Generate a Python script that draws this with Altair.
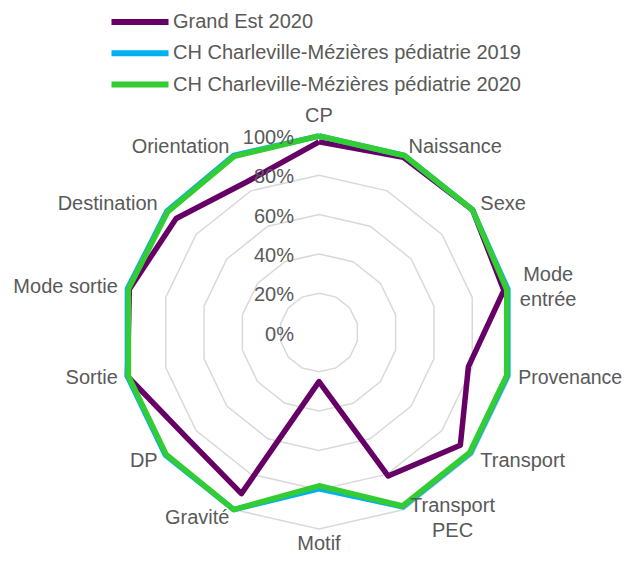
import altair as alt
import pandas as pd

categories = ["CP", "Naissance", "Sexe", "Mode entrée", "Provenance", "Transport",
              "Transport PEC", "Motif", "Gravité", "DP", "Sortie", "Mode sortie",
              "Destination", "Orientation"]
series_names = ["Grand Est 2020",
                "CH Charleville-Mézières pédiatrie 2019",
                "CH Charleville-Mézières pédiatrie 2020"]
grand_est_2020 = [0.97, 0.99, 1.00, 0.965, 0.78, 0.92, 0.81, 0.25, 0.91, 0.86, 1.00, 0.99, 0.93, 0.85]
ch_2019 = [1.00, 1.00, 1.00, 0.985, 0.985, 0.985, 0.985, 0.795, 1.00, 1.00, 1.00, 1.00, 0.99, 1.00]
ch_2020 = [1.00, 1.00, 1.00, 0.98, 0.98, 0.98, 0.98, 0.78, 1.00, 0.995, 0.995, 0.995, 0.985, 0.995]
series_values = [grand_est_2020, ch_2019, ch_2020]
colors = ["#660066", "#00b0f0", "#33cc33"]
grid_levels = [0.2, 0.4, 0.6, 0.8, 1.0]
tick_levels = [0.0, 0.2, 0.4, 0.6, 0.8, 1.0]
tick_labels = ["0%", "20%", "40%", "60%", "80%", "100%"]
label_text = {"Mode entrée": "Mode\nentrée", "Transport PEC": "Transport\nPEC"}

N = len(categories)
FONT = "Liberation Sans"
TXT = "#595959"

rows = []
for name, vals in zip(series_names, series_values):
    for i in range(N + 1):
        rows.append({"series": name, "idx": i, "value": vals[i % N]})
df = pd.DataFrame(rows)

grid = pd.DataFrame([{"level": lv, "idx": i, "value": lv} for lv in grid_levels for i in range(N + 1)])
ticks = pd.DataFrame({"value": tick_levels, "label": tick_labels})
labels = pd.DataFrame({"cat": categories, "idx": list(range(N)),
                       "text": [label_text.get(c, c) for c in categories]})

xs = alt.Scale(domain=[-1.5827, 1.5471], nice=False, zero=False)
ys = alt.Scale(domain=[-1.1221, 1.6514], nice=False, zero=False)


def polar(chart, r=None):
    val = "datum.value" if r is None else str(r)
    return chart.transform_calculate(
        ang=f"datum.idx * 2 * PI / {N}"
    ).transform_calculate(
        px=f"{val} * sin(datum.ang)", py=f"{val} * cos(datum.ang)"
    )


X = alt.X("px:Q", scale=xs, axis=None)
Y = alt.Y("py:Q", scale=ys, axis=None)

rings = polar(alt.Chart(grid)).mark_line(color="#d9d9d9", strokeWidth=1.5).encode(
    x=X, y=Y, detail="level:N", order="idx:Q")

color = alt.Color("series:N", scale=alt.Scale(domain=series_names, range=colors),
                  legend=alt.Legend(title=None, orient="none", legendX=100, legendY=4,
                                    symbolType="stroke", symbolSize=3250, symbolStrokeWidth=6,
                                    labelFontSize=20, labelColor=TXT, labelFont=FONT,
                                    labelLimit=600, clipHeight=20, rowPadding=11.3,
                                    labelOffset=1, padding=0))

line_layers = []
for name in series_names:
    line_layers.append(
        polar(alt.Chart(df)).transform_filter(alt.datum.series == name)
        .mark_line(strokeWidth=5.5, strokeJoin="round")
        .encode(x=X, y=Y, color=color, order="idx:Q")
    )

tick_text = alt.Chart(ticks).transform_calculate(px="0", py="datum.value").mark_text(
    align="right", baseline="middle", dx=-25, dy=2, fontSize=20, font=FONT, color=TXT
).encode(x=X, y=Y, text="label:N")


def label_layer(cats, r, size=20, **kw):
    return polar(alt.Chart(labels).transform_filter(
        alt.FieldOneOfPredicate(field="cat", oneOf=cats)), r=r).mark_text(
        baseline="middle", fontSize=size, font=FONT, color=TXT, lineBreak="\n", lineHeight=25, **kw
    ).encode(x=X, y=Y, text="text:N")


lab_right = label_layer(["Naissance", "Sexe", "Transport"], 1.05, align="left")
lab_prov = label_layer(["Provenance"], 1.05, size=19.5, align="left", dx=-2)
lab_left = label_layer(["Gravité", "DP", "Sortie", "Mode sortie", "Destination", "Orientation"], 1.05, align="right")
lab_top = label_layer(["CP"], 1.1, align="center")
lab_bottom = label_layer(["Motif"], 1.075, align="center")
lab_mode = label_layer(["Mode entrée"], 1.05, align="center", dx=28, dy=-12)
lab_tpec = label_layer(["Transport PEC"], 1.05, align="center", dx=44, dy=-12)

chart = alt.layer(rings, *line_layers, tick_text, lab_right, lab_prov, lab_left, lab_top, lab_bottom,
                  lab_mode, lab_tpec).properties(
    width=615, height=545, autosize="none", padding=0
).configure_view(stroke=None)

chart.save("out.html", embed_options={"renderer": "svg", "actions": False})
